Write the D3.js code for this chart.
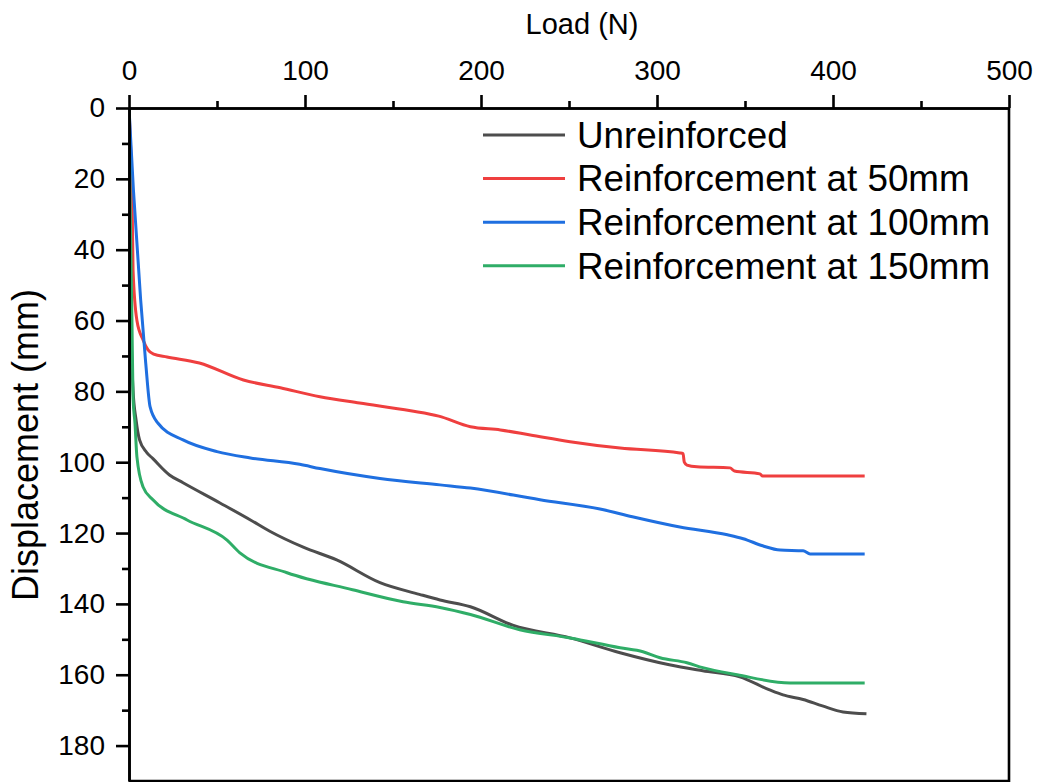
<!DOCTYPE html>
<html>
<head>
<meta charset="utf-8">
<script src="https://cdn.jsdelivr.net/npm/d3@7"></script>
<style>
  body { margin: 0; background: #fff; }
  svg { display: block; }
  svg text { font-family: "Liberation Sans", Arial, sans-serif; }
</style>
</head>
<body>
<div id="chart"></div>
<script>
// series names
var seriesNames = ["Unreinforced", "Reinforcement at 50mm", "Reinforcement at 100mm", "Reinforcement at 150mm"];

// load (N) / displacement (mm)
var unreinforcedLoad = [0, 0.5, 1.1, 2.3, 4, 6, 10, 13.6, 23, 30.7, 51.7, 69, 80, 99, 118, 142.6, 165, 176.7, 194, 218, 250.6, 279, 307, 326, 347, 364, 371.6, 383, 394, 405.7, 419];
var unreinforcedDisp = [0, 30, 60, 79.6, 88, 93.7, 97.2, 99, 103.6, 105.8, 111.5, 116.3, 119.5, 124, 127.6, 134, 137.3, 138.9, 140.8, 146, 149.6, 153.8, 157.2, 158.9, 160.6, 164.3, 165.7, 167, 168.8, 170.5, 171];

var r50Load = [0, 1, 1.7, 2.3, 4.5, 8, 10.8, 14, 21.6, 40, 65, 86, 108.5, 131, 160, 176, 194, 211, 228, 250.6, 279, 313, 314.8, 315.5, 317, 322.7, 341.5, 344, 358.5, 360, 418];
var r50Disp = [0, 12, 23, 45.7, 60, 65.5, 68.3, 69.5, 70.3, 72, 76.8, 79, 81.5, 83.3, 85.5, 87, 90, 90.9, 92.3, 94.2, 96, 97.4, 97.6, 100, 100.8, 101.3, 101.6, 102.5, 103.3, 103.9, 103.9];

var r100Load = [0, 2.5, 6.6, 9.5, 12, 16.5, 30.7, 50, 69, 97, 108.5, 142.6, 176.7, 194, 233.5, 267.6, 286, 313, 340, 349, 360, 370, 383, 387, 418];
var r100Disp = [0, 23, 54, 72, 84.4, 89, 93.7, 97, 98.8, 100.6, 101.8, 104.6, 106.4, 107.3, 110.6, 113.2, 115.4, 118.3, 120.5, 121.6, 123.6, 124.8, 125, 125.9, 125.9];

var r150Load = [0, 0.6, 1.7, 2.3, 3.4, 4.5, 8, 13.6, 33, 55.7, 63, 89.8, 127, 155.7, 176.7, 194, 222, 250.6, 279, 292, 301.7, 317, 326, 345.5, 375.6, 380, 418];
var r150Disp = [0, 26, 60.7, 82, 89, 98.5, 107, 110.6, 116.3, 122, 125.6, 131.2, 136, 139.4, 141, 143, 147.3, 149.6, 152.4, 153.5, 155.2, 156.6, 158, 160, 162.3, 162.3, 162.3];

var xTicks = [0, 100, 200, 300, 400, 500];
var xMinor = [50, 150, 250, 350, 450];
var yTicks = [0, 20, 40, 60, 80, 100, 120, 140, 160, 180];
var yMinor = [10, 30, 50, 70, 90, 110, 130, 150, 170];

var colors = ["#4d4d4d", "#ef3f3f", "#1f6fe0", "#2fad67"];

var width = 1041, height = 782;
var margin = {left: 129, right: 32, top: 108, bottom: 1};

var series = [
  [unreinforcedLoad, unreinforcedDisp],
  [r50Load, r50Disp],
  [r100Load, r100Disp],
  [r150Load, r150Disp]
].map(function(s, i) {
  return {
    name: seriesNames[i],
    color: colors[i],
    values: s[0].map(function(l, j) { return {x: l, y: s[1][j]}; })
  };
});

var svg = d3.select("#chart").append("svg")
  .attr("width", width)
  .attr("height", height);

var x = d3.scaleLinear().domain([0, 500]).range([margin.left, width - margin.right]);
var y = d3.scaleLinear().domain([0, 190]).range([margin.top, height - margin.bottom]);

svg.append("defs").append("clipPath").attr("id", "plot-clip")
  .append("rect")
  .attr("x", x(0)).attr("y", y(0))
  .attr("width", x(500) - x(0)).attr("height", y(190) - y(0));

// curves
var line = d3.line()
  .x(function(d) { return x(d.x); })
  .y(function(d) { return y(d.y); })
  .curve(d3.curveMonotoneX);

var g = svg.append("g").attr("clip-path", "url(#plot-clip)");
g.selectAll("path.series")
  .data(series)
  .enter().append("path")
  .attr("class", "series")
  .attr("fill", "none")
  .attr("stroke", function(d) { return d.color; })
  .attr("stroke-width", 3)
  .attr("stroke-linejoin", "round")
  .attr("d", function(d) { return line(d.values); });

// frame (right + bottom)
svg.append("path")
  .attr("fill", "none")
  .attr("stroke", "#000")
  .attr("stroke-width", 2.6)
  .attr("d", "M" + x(500) + "," + y(0) + "V" + y(190) + "H" + x(0));

// axes
function styleAxis(sel) {
  sel.attr("font-family", null).attr("font-size", null);
  sel.select(".domain").attr("stroke-width", 2.6);
  sel.selectAll(".tick line").attr("stroke-width", 2.6);
  sel.selectAll(".tick text").attr("fill", "#000").style("font-size", "28px");
}

svg.append("g")
  .attr("transform", "translate(0," + y(0) + ")")
  .call(d3.axisTop(x).tickValues(xMinor).tickSize(7).tickFormat("").tickSizeOuter(0))
  .call(styleAxis);

svg.append("g")
  .attr("transform", "translate(0," + y(0) + ")")
  .call(d3.axisTop(x).tickValues(xTicks).tickSize(13).tickPadding(15).tickSizeOuter(0))
  .call(styleAxis);

svg.append("g")
  .attr("transform", "translate(" + x(0) + ",0)")
  .call(d3.axisLeft(y).tickValues(yMinor).tickSize(7).tickFormat("").tickSizeOuter(0))
  .call(styleAxis);

svg.append("g")
  .attr("transform", "translate(" + x(0) + ",0)")
  .call(d3.axisLeft(y).tickValues(yTicks).tickSize(13).tickPadding(11).tickSizeOuter(0))
  .call(styleAxis);

// axis titles
svg.append("text")
  .attr("x", 582)
  .attr("y", 34)
  .attr("text-anchor", "middle")
  .style("font-size", "29px")
  .text("Load (N)");

svg.append("text")
  .attr("transform", "translate(38,445) rotate(-90)")
  .attr("text-anchor", "middle")
  .style("font-size", "36px")
  .text("Displacement (mm)");

// legend
var legend = svg.append("g").attr("transform", "translate(483,135)");
var item = legend.selectAll("g")
  .data(series)
  .enter().append("g")
  .attr("transform", function(d, i) { return "translate(0," + (i * 43.6) + ")"; });
item.append("line")
  .attr("x1", 0).attr("x2", 82)
  .attr("stroke", function(d) { return d.color; })
  .attr("stroke-width", 3);
item.append("text")
  .attr("x", 94)
  .attr("dy", "0.35em")
  .style("font-size", "36.8px")
  .text(function(d) { return d.name; });
</script>
</body>
</html>
